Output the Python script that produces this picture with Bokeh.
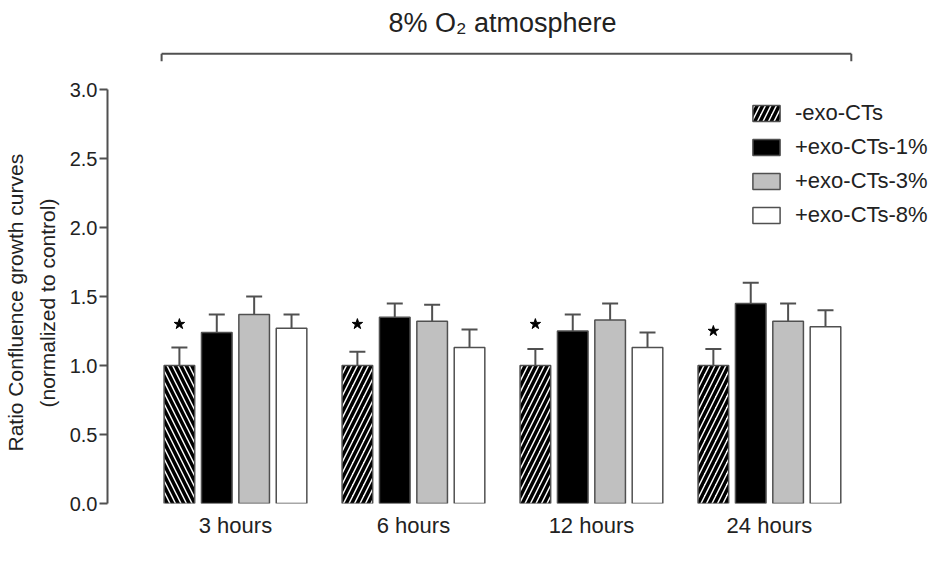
from bokeh.plotting import figure
from bokeh.models import (ColumnDataSource, Range1d, FixedTicker, Whisker, TeeHead,
                          Legend, LegendItem, Label, Title, NumeralTickFormatter)
from bokeh.embed import file_html
from bokeh.resources import INLINE

# ---- data ----
categories = ["3 hours", "6 hours", "12 hours", "24 hours"]
series_names = ["-exo-CTs", "+exo-CTs-1%", "+exo-CTs-3%", "+exo-CTs-8%"]
neg_ctrl = [1.00, 1.00, 1.00, 1.00]
neg_ctrl_err = [0.13, 0.10, 0.12, 0.12]
exo_1 = [1.24, 1.35, 1.25, 1.45]
exo_1_err = [0.13, 0.10, 0.12, 0.15]
exo_3 = [1.37, 1.32, 1.33, 1.32]
exo_3_err = [0.13, 0.12, 0.12, 0.13]
exo_8 = [1.27, 1.13, 1.13, 1.28]
exo_8_err = [0.10, 0.13, 0.11, 0.12]
star_y = [1.30, 1.30, 1.30, 1.25]
title_text = "8% O\u2082 atmosphere"
y_label_lines = ["Ratio Confluence growth curves", "(normalized to control)"]
y_ticks = [0.0, 0.5, 1.0, 1.5, 2.0, 2.5, 3.0]

FONT = "Liberation Sans"
EDGE = "#505050"
TXT = "#222222"

values = [neg_ctrl, exo_1, exo_3, exo_8]
errors = [neg_ctrl_err, exo_1_err, exo_3_err, exo_8_err]
fills = ["white", "black", "#c0c0c0", "white"]

pitch = 0.21
bar_w = 0.172

p = figure(width=930, height=545, output_backend="svg", toolbar_location=None,
           x_range=Range1d(-0.719, 3.905), y_range=Range1d(0, 3.587),
           min_border_left=107, min_border_right=0, min_border_top=8,
           min_border_bottom=42)
p.outline_line_color = None
p.xgrid.visible = False
p.ygrid.visible = False
p.background_fill_color = "white"
p.border_fill_color = "white"

renderers = []
for j in range(4):
    xs = [i + (j - 1.5) * pitch for i in range(len(categories))]
    tops = values[j]
    uppers = [t + e for t, e in zip(tops, errors[j])]
    src = ColumnDataSource(dict(x=xs, top=tops, upper=uppers))
    if j == 0:
        src.data["hatch"] = ["\\", "/", "/", "/"]
        r = p.vbar(x="x", top="top", width=bar_w, source=src, fill_color="white",
                   line_color=EDGE, line_width=1.5, hatch_pattern="hatch",
                   hatch_color="black", hatch_scale=11, hatch_weight=3.5)
    else:
        r = p.vbar(x="x", top="top", width=bar_w, source=src, fill_color=fills[j],
                   line_color=EDGE, line_width=1.5)
    renderers.append(r)
    w = Whisker(base="x", upper="upper", lower="top", source=src,
                line_color=EDGE, line_width=2,
                upper_head=TeeHead(size=16, line_color=EDGE, line_width=2),
                lower_head=None)
    p.add_layout(w)

# significance stars
star_x = [i - 1.5 * pitch for i in range(len(categories))]
p.scatter(star_x, star_y, marker="star", size=11, fill_color="black", line_color="black")

# bracket and title
x0 = -0.415
x1 = 3.46
yb = 3.26
p.segment(x0=[x0, x0, x1], y0=[yb, yb, yb], x1=[x1, x0, x1], y1=[yb, yb - 0.055, yb - 0.055],
          line_color=EDGE, line_width=2)
p.add_layout(Label(x=1.5, y=3.485, text=title_text, text_align="center",
                   text_baseline="middle", text_font=FONT,
                   text_font_size="27px", text_color=TXT))

# y-axis title: two rotated lines, each centred on the 0-3 axis extent
for line, off, so in ((y_label_lines[1], 96, 15), (y_label_lines[0], 52, 0)):
    p.add_layout(Title(text=line, align="left", offset=off, standoff=so,
                       text_font=FONT, text_font_size="21px", text_line_height=1.0,
                       text_font_style="normal", text_color=TXT), "left")

# axes
p.yaxis.bounds = (0, 3)
p.yaxis.ticker = FixedTicker(ticks=y_ticks)
p.yaxis.formatter = NumeralTickFormatter(format="0.0")
p.yaxis.minor_tick_line_color = None
p.yaxis.major_tick_in = 0
p.yaxis.major_tick_out = 8
p.yaxis.axis_line_color = EDGE
p.yaxis.axis_line_width = 2
p.yaxis.major_tick_line_color = EDGE
p.yaxis.major_tick_line_width = 2
p.yaxis.major_label_text_font = FONT
p.yaxis.major_label_text_font_size = "20px"
p.yaxis.major_label_text_color = TXT
p.yaxis.major_label_standoff = 2

p.xaxis.ticker = FixedTicker(ticks=list(range(len(categories))))
p.xaxis.major_label_overrides = {i: c for i, c in enumerate(categories)}
p.xaxis.axis_line_color = None
p.xaxis.major_tick_line_color = None
p.xaxis.minor_tick_line_color = None
p.xaxis.major_label_text_font = FONT
p.xaxis.major_label_text_font_size = "22px"
p.xaxis.major_label_text_color = TXT
p.xaxis.major_label_standoff = 3

legend = Legend(items=[LegendItem(label=series_names[j], renderers=[renderers[j]],
                                  index=1 if j == 0 else None) for j in range(4)],
                location=(642, 275), glyph_width=34, glyph_height=20,
                label_height=20, spacing=8, padding=0, margin=0,
                label_standoff=12, border_line_color=None,
                background_fill_alpha=0, label_text_font=FONT,
                label_text_font_size="22px", label_text_color=TXT)
p.add_layout(legend)

open("out.html", "w").write(file_html(p, INLINE))
